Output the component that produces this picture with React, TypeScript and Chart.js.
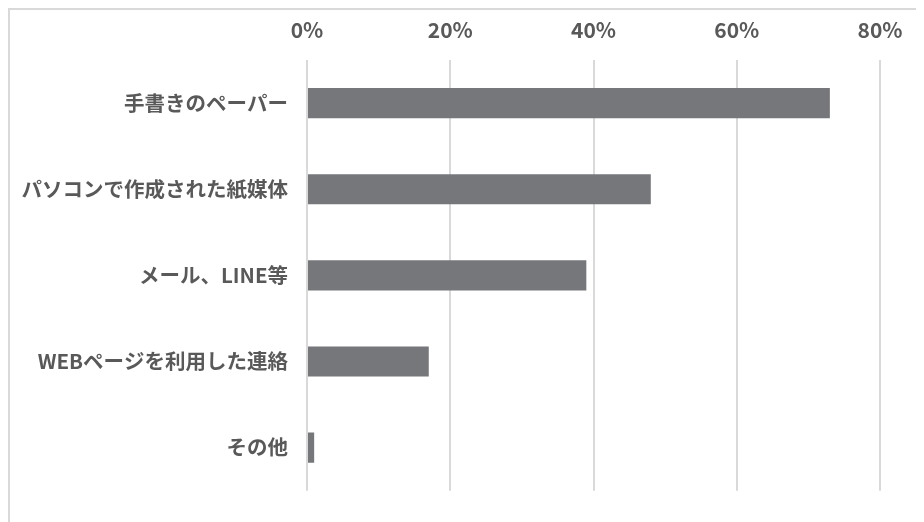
import React, { useEffect, useRef } from "react";
import { Chart, registerables } from "chart.js";

Chart.register(...registerables);

const categories = [
  "手書きのペーパー",
  "パソコンで作成された紙媒体",
  "メール、LINE等",
  "WEBページを利用した連絡",
  "その他",
];
const values = [73, 48, 39, 17, 1];
const xTicks = [0, 20, 40, 60, 80];

export default function App() {
  const ref = useRef<HTMLCanvasElement>(null);
  useEffect(() => {
    document.body.style.overflow = "hidden";
    const font = '"Noto Sans CJK JP", "Noto Sans", sans-serif';
    const chart = new Chart(ref.current!, {
      type: "bar",
      data: {
        labels: categories,
        datasets: [
          {
            data: values,
            backgroundColor: "#76777b",
            borderWidth: 0,
            barPercentage: 0.35,
            categoryPercentage: 1,
          },
        ],
      },
      options: {
        indexAxis: "y",
        animation: false,
        responsive: false,
        maintainAspectRatio: false,
        layout: { padding: { left: 0, right: 44, top: 0, bottom: 24 } },
        plugins: { legend: { display: false }, tooltip: { enabled: false } },
        scales: {
          x: {
            position: "top",
            min: 0,
            max: 80,
            afterBuildTicks: (s: any) => {
              s.ticks = xTicks.map((v) => ({ value: v }));
            },
            afterFit: (s: any) => {
              s.height = 50;
            },
            grid: { color: "#d9d9d9", lineWidth: 2, drawTicks: false },
            border: { display: false },
            ticks: {
              padding: 17,
              color: "#595959",
              font: { family: font, size: 21, weight: "bold" },
              callback: (v: any) => v + "%",
            },
          },
          y: {
            afterFit: (s: any) => {
              s.width = 297;
            },
            grid: { display: false, drawTicks: false },
            border: { display: false },
            ticks: {
              padding: 19,
              color: "#595959",
              font: { family: font, size: 20.5, weight: "bold" },
            },
          },
        },
      },
    });
    return () => chart.destroy();
  }, []);
  return (
    <div
      style={{
        width: 916,
        height: 514,
        borderLeft: "2px solid #d9d9d9",
        borderTop: "2px solid #d9d9d9",
        boxSizing: "border-box",
      }}
    >
      <canvas ref={ref} width={914} height={512} style={{ display: "block" }} />
    </div>
  );
}
